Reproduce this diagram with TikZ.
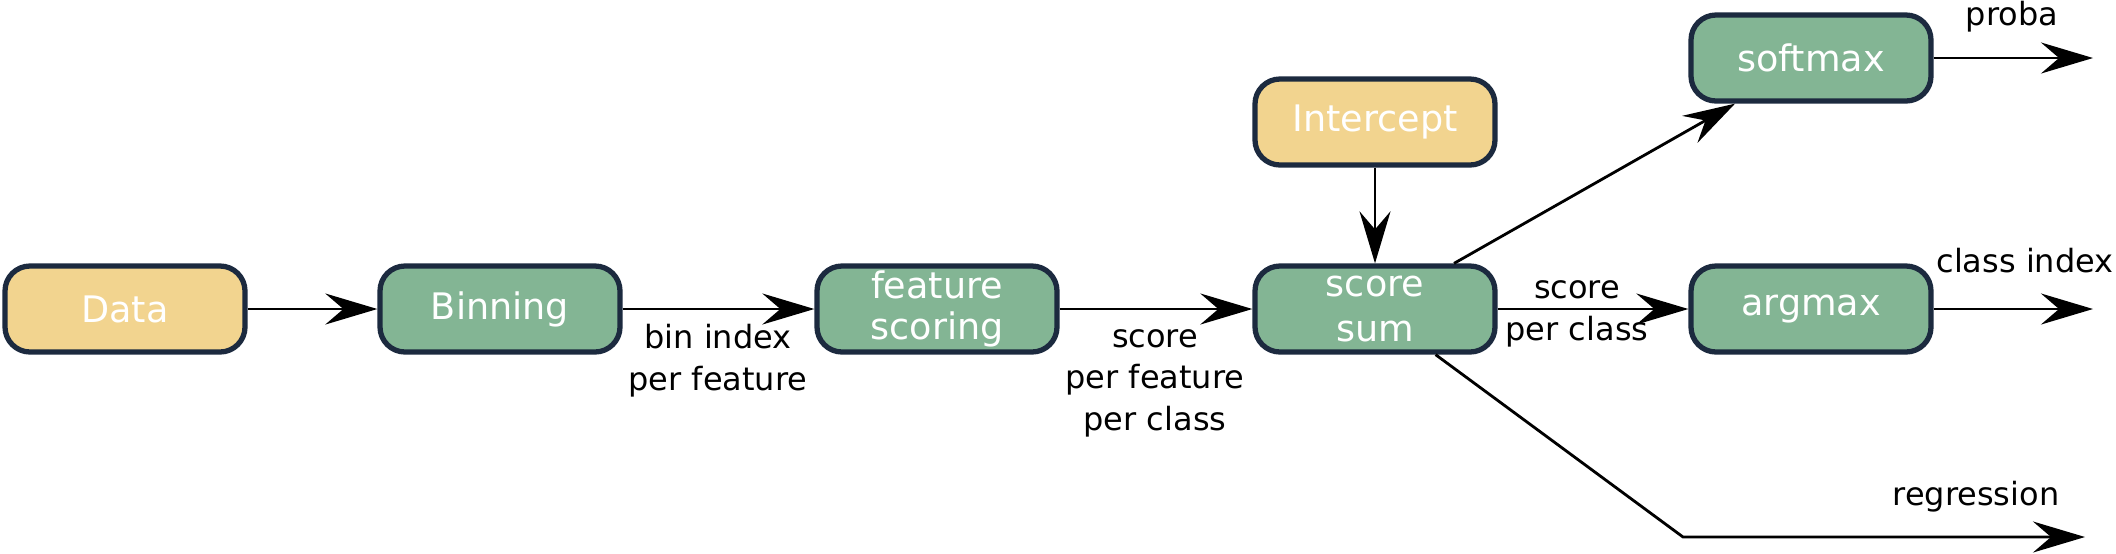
\documentclass[tikz,border=0pt]{standalone}
\usepackage{fontspec}
\setmainfont{DejaVu Sans}
\usetikzlibrary{arrows.meta}
\definecolor{stagefill}{HTML}{83B594}
\definecolor{inputfill}{HTML}{F2D48F}
\definecolor{boxline}{HTML}{1C2A3F}
\begin{document}
\begin{tikzpicture}[
    box/.style={draw=boxline, line width=1.5pt, rounded corners=0.25cm,
      minimum width=2.40cm, minimum height=0.86cm, inner sep=1pt,
      align=center, text=white, font=\fontsize{10.4}{13}\selectfont},
    stage/.style={box, fill=stagefill},
    input/.style={box, fill=inputfill},
    lbl/.style={anchor=base, align=center, font=\fontsize{9.1}{11.7}\selectfont},
    arr/.style={-{Stealth[length=5.2mm, width=3.1mm, inset=1.8mm]}, line width=0.8pt}]
    \useasboundingbox (0,0) rectangle (21.16,5.53);
    % boxes
    \node[input] (data) at (1.25,2.44) {Data};
    \node[stage] (binning) at (5.00,2.44) {Binning};
    \node[stage] (fscoring) at (9.37,2.44) {feature\\[-1.5pt]scoring};
    \node[stage] (ssum) at (13.75,2.44) {score\\sum};
    \node[input] (intercept) at (13.75,4.31) {Intercept};
    \node[stage] (softmax) at (18.11,4.95) {softmax};
    \node[stage] (argmax) at (18.11,2.44) {argmax};
    % free ends
    \coordinate (probaend) at (20.93,4.95);
    \coordinate (classend) at (20.93,2.44);
    \coordinate (regknee) at (16.83,0.16);
    \coordinate (regend) at (20.85,0.16);
    % connectors
    \draw[arr] (data) -- (binning);
    \draw[arr] (binning) -- (fscoring);
    \draw[arr] (fscoring) -- (ssum);
    \draw[arr] (intercept) -- (ssum);
    \draw[arr] (ssum) -- (argmax);
    \draw[arr] (ssum.30) -- (softmax.211);
    \draw[arr] (ssum.-37) -- (regknee) -- (regend);
    \draw[arr] (softmax) -- (probaend);
    \draw[arr] (argmax) -- (classend);
    % labels (base = last line)
    \node[lbl] (binlbl) at (7.18,1.63) {bin index\\per feature};
    \node[lbl] (scorelbl) at (11.55,1.23) {score\\per feature\\per class};
    \node[lbl] (classlbl) at (15.77,2.13) {score\\per class};
    \node[lbl] (probalbl) at (20.12,5.28) {proba};
    \node[lbl] (indexlbl) at (20.25,2.81) {class index};
    \node[lbl] (reglbl) at (19.76,0.48) {regression};
\end{tikzpicture}
\end{document}
